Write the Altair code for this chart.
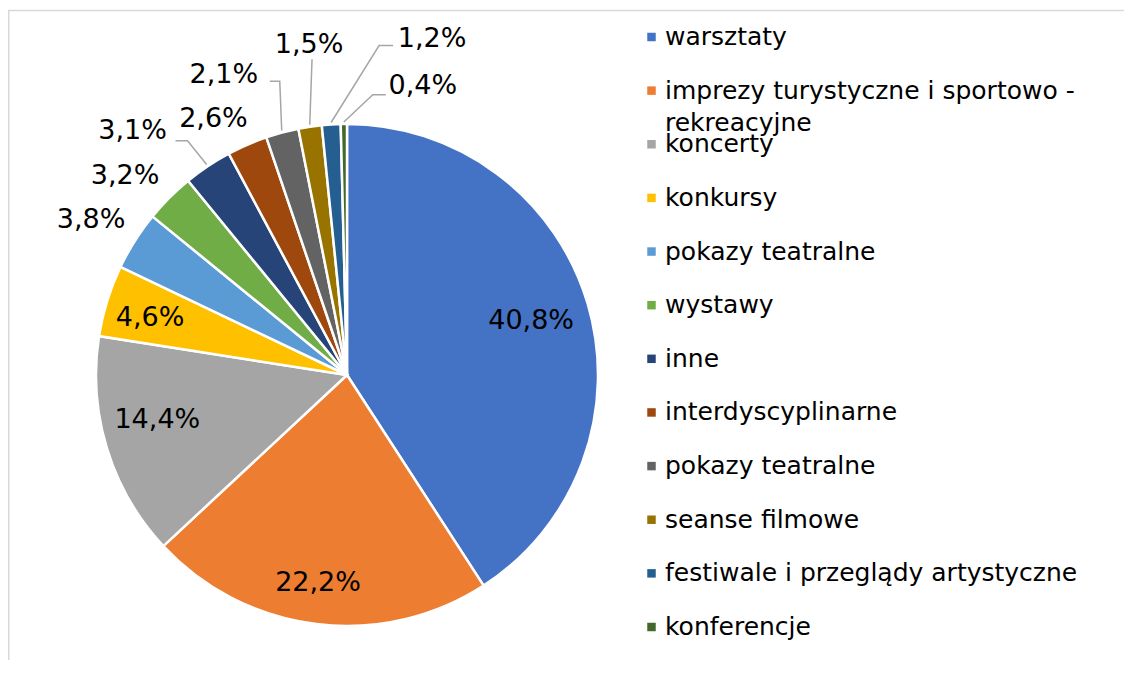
import math
import altair as alt
import pandas as pd

# ---- data ----
categories = [
    "warsztaty",
    "imprezy turystyczne i sportowo - rekreacyjne",
    "koncerty",
    "konkursy",
    "pokazy teatralne",
    "wystawy",
    "inne",
    "interdyscyplinarne",
    "pokazy teatralne",
    "seanse filmowe",
    "festiwale i przeglądy artystyczne",
    "konferencje",
]
values = [40.8, 22.2, 14.4, 4.6, 3.8, 3.2, 3.1, 2.6, 2.1, 1.5, 1.2, 0.4]
colors = ["#4472C4", "#ED7D31", "#A5A5A5", "#FFC000", "#5B9BD5", "#70AD47",
          "#264478", "#9E480E", "#636363", "#997300", "#255E91", "#43682B"]

# legend text as wrapped in the reference
legend_line1 = [
    "warsztaty", "imprezy turystyczne i sportowo -", "koncerty", "konkursy",
    "pokazy teatralne", "wystawy", "inne", "interdyscyplinarne",
    "pokazy teatralne", "seanse filmowe", "festiwale i przeglądy artystyczne",
    "konferencje",
]
legend_line2 = {1: "rekreacyjne"}

# ---- layout (pixels / degrees) ----
W, H = 1116, 652
CX, CY, R = 339, 367, 251
label_nudge_deg = [0.0, 0.9, 3.6, -1.0, -1.2, -3.1, -7.6, -4.1, -7.4, 1.9, 17.8, 15.4]
label_radius = [192, 210, 195, 205, 299, 298, 325, 289, 324, 332, 347, 299]
# leader lines: (end dx, end dy, elbow dx) relative to the label centre
leaders = {6: (43, 10, 55), 8: (46, 6, 56), 9: (3, 14, 3),
           10: (-39, 7, -53), 11: (-37, 9, -50)}

keys = [f"k{i:02d}" for i in range(len(values))]
total = sum(values)

df = pd.DataFrame({"key": keys, "idx": list(range(len(values))),
                   "value": values, "name": categories})

mids = []
acc = 0.0
for v in values:
    mids.append((acc + v / 2) / total * 360.0)
    acc += v

lab_rows, lead_rows = [], []
for i, v in enumerate(values):
    ang = (mids[i] + label_nudge_deg[i]) % 360.0
    lr = label_radius[i]
    txt = f"{v:.1f}".replace(".", ",") + "%"
    lab_rows.append({"key": keys[i], "ang": ang, "lr": lr, "text": txt})
    if i in leaders:
        a = math.radians(ang)
        lx, ly = CX + lr * math.sin(a), CY - lr * math.cos(a)
        edx, edy, elx = leaders[i]
        m = math.radians(mids[i])
        pts = [(lx + edx, ly + edy), (lx + elx, ly + edy),
               (CX + (R + 2) * math.sin(m), CY - (R + 2) * math.cos(m))]
        for j, (px, py) in enumerate(pts):
            lead_rows.append({"key": keys[i], "ord": j, "x": px, "y": py})

lab_df = pd.DataFrame(lab_rows)
lead_df = pd.DataFrame(lead_rows)
leg_df = pd.DataFrame({"key": keys, "line1": legend_line1})
leg2_df = pd.DataFrame({"key": [keys[i] for i in legend_line2],
                        "line2": list(legend_line2.values())})

color_scale = alt.Scale(domain=keys, range=colors)
leg_y = alt.Y("key:N", scale=alt.Scale(type="point", domain=keys, range=[29, 619], padding=0),
              axis=None)

arcs = alt.Chart(df).mark_arc(outerRadius=R, stroke="white", strokeWidth=2.5).encode(
    theta=alt.Theta("value:Q", stack=True),
    color=alt.Color("key:N", scale=color_scale, legend=None),
    order=alt.Order("idx:Q", sort="ascending"),
    x=alt.value(CX),
    y=alt.value(CY),
)

labels = alt.Chart(lab_df).mark_text(
    font="DejaVu Sans", fontSize=27, color="#000000", align="center", baseline="middle"
).encode(
    theta=alt.Theta("ang:Q", scale=alt.Scale(domain=[0, 360], range=[0, 2 * math.pi]), stack=False),
    radius=alt.Radius("lr:Q", scale=None),
    text="text:N",
    x=alt.value(CX),
    y=alt.value(CY),
)

lead = alt.Chart(lead_df).mark_line(color="#A6A6A6", strokeWidth=1.5).encode(
    x=alt.X("x:Q", scale=None, axis=None),
    y=alt.Y("y:Q", scale=None, axis=None),
    detail="key:N",
    order="ord:Q",
)

leg_sym = alt.Chart(df).mark_square(size=72, opacity=1).encode(
    x=alt.value(643.5),
    y=leg_y,
    color=alt.Color("key:N", scale=color_scale, legend=None),
)

leg_txt = alt.Chart(leg_df).mark_text(
    font="DejaVu Sans", fontSize=25, color="#000000", align="left", baseline="middle"
).encode(x=alt.value(657), y=leg_y, text="line1:N")

leg_txt2 = alt.Chart(leg2_df).mark_text(
    font="DejaVu Sans", fontSize=25, color="#000000", align="left", baseline="middle", dy=32
).encode(x=alt.value(657), y=leg_y, text="line2:N")

one = pd.DataFrame({"a": [0]})
frame_top = alt.Chart(one).mark_rule(color="#D9D9D9", strokeWidth=1.5).encode(
    x=alt.value(0), x2=alt.value(W), y=alt.value(2.5))
frame_left = alt.Chart(one).mark_rule(color="#D9D9D9", strokeWidth=1.5).encode(
    x=alt.value(0.75), y=alt.value(2), y2=alt.value(H))

chart = alt.layer(
    frame_top, frame_left, arcs, lead, labels, leg_sym, leg_txt, leg_txt2
).resolve_scale(
    theta="independent", x="independent", y="independent"
).properties(
    width=W, height=H, padding=0, autosize="none"
).configure_view(strokeWidth=0)

chart.save("out.html", embed_options={"renderer": "svg", "actions": False})
